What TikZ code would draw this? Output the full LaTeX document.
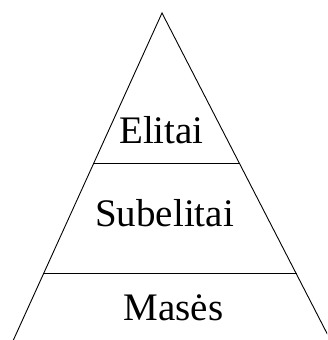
\documentclass[tikz,border=0pt]{standalone}
\usepackage{fontspec}
\setmainfont{Liberation Serif}
\begin{document}
\begin{tikzpicture}[x=1pt,y=-1pt,
  edge/.style={draw=black,line width=0.9pt},
  lbl/.style={anchor=base,inner sep=0pt,font=\fontsize{39}{41}\selectfont}]
\useasboundingbox (0,0) rectangle (327,340);
\clip (0,0) rectangle (327,340);
\coordinate (apex) at (162,13);
\coordinate (bl) at (13.4,340);
\coordinate (br) at (330.4,340);
\coordinate (l1) at (93,163);
\coordinate (r1) at (240,163);
\coordinate (l2) at (43,273);
\coordinate (r2) at (296.7,273);
\draw[edge] (bl) -- (apex) -- (br);
\draw[edge] (l1) -- (r1);
\draw[edge] (l2) -- (r2);
\node[lbl] (elitai) at (161.5,143) {Elitai};
\node[lbl] (subelitai) at (164.5,226) {Subelitai};
\node[lbl] (mases) at (173.5,320) {Masės};
\end{tikzpicture}
\end{document}
